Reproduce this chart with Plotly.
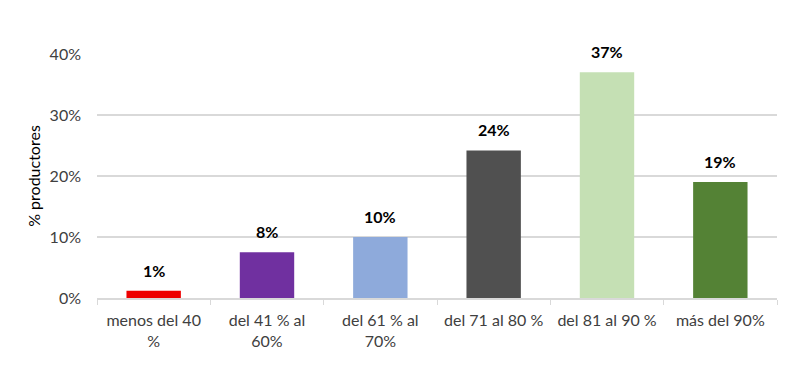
import plotly.graph_objects as go

categories = ["menos del 40<br>%", "del 41 % al<br>60%", "del 61 % al<br>70%",
              "del 71 al 80 %", "del 81 al 90 %", "más del 90%"]
values = [0.012, 0.075, 0.10, 0.242, 0.37, 0.19]
value_labels = ["1%", "8%", "10%", "24%", "37%", "19%"]
colors = ["#ee0000", "#7030a0", "#8eaadb", "#505050", "#c5e0b4", "#548235"]
y_ticks = [0, 0.1, 0.2, 0.3, 0.4]
y_tick_labels = ["0%", "10%", "20%", "30%", "40%"]

font_family = "Lato, 'Open Sans', sans-serif"

fig = go.Figure(go.Bar(x=categories, y=values, marker=dict(color=colors, line=dict(width=0)),
                       width=0.48, hoverinfo="skip"))

for c, v, t in zip(categories, values, value_labels):
    fig.add_annotation(x=c, y=v, text="<b>" + t + "</b>", showarrow=False,
                       yanchor="bottom", yshift=9,
                       font=dict(family=font_family, size=16, color="#000000"))

fig.update_layout(
    width=808, height=385,
    margin=dict(l=89, r=39, t=46, b=95),
    paper_bgcolor="white", plot_bgcolor="white",
    showlegend=False,
    font=dict(family=font_family, size=16, color="#404040"),
    xaxis=dict(showline=True, linecolor="#d9d9d9", linewidth=1.5,
               ticks="outside", tickson="boundaries", ticklen=5, tickcolor="#d9d9d9",
               ticklabelstandoff=7,
               tickfont=dict(size=16, color="#404040"), showgrid=False),
    yaxis=dict(range=[0, 0.4], tickvals=y_ticks, ticktext=y_tick_labels,
               showgrid=True, gridcolor="#d9d9d9", gridwidth=1.5,
               zeroline=False, showline=False, ticks="",
               ticklabelstandoff=15,
               tickfont=dict(size=16, color="#404040"),
               title=dict(text="% productores", font=dict(size=16, color="#000000"), standoff=5)),
)

fig.write_html("out.html")
